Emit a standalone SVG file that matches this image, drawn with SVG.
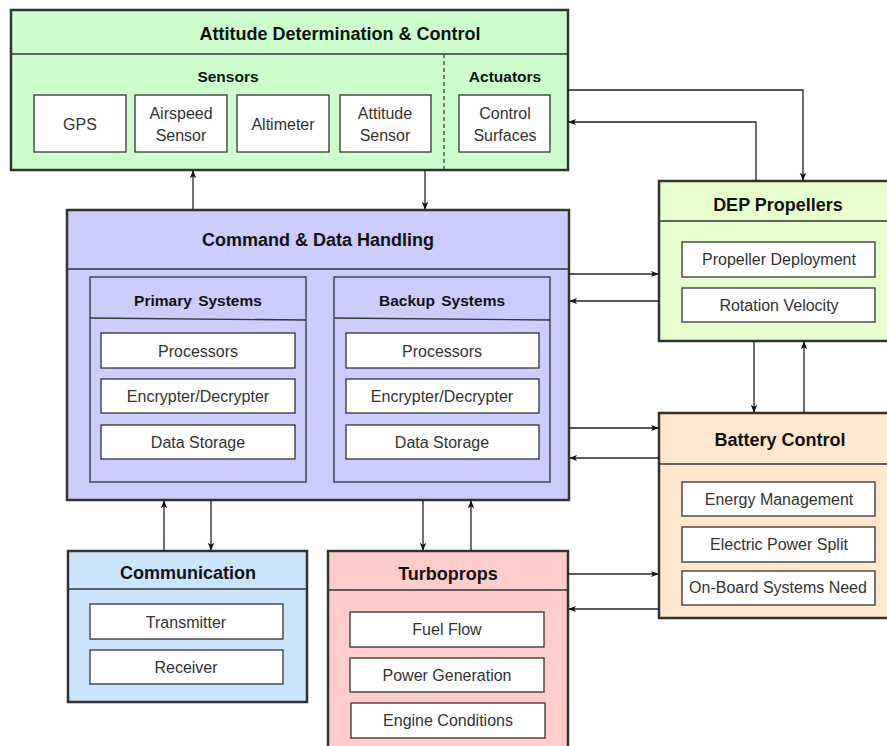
<svg xmlns="http://www.w3.org/2000/svg" width="887" height="746" viewBox="0 0 887 746">
<defs>
<marker id="ah" viewBox="0 0 10 10" refX="9" refY="5" markerWidth="8" markerHeight="8" markerUnits="userSpaceOnUse" orient="auto">
<path d="M0,1 L10,5 L0,9 L2.5,5 Z" fill="#111"/>
</marker>
</defs>
<style>
.outer{stroke:#333;stroke-width:2.5}
.div{stroke:#333;stroke-width:1.3;fill:none}
.item{fill:#fff;stroke:#333;stroke-width:1.3}
.title{font-family:"Liberation Sans",Arial,sans-serif;font-size:18px;font-weight:bold;fill:#111;text-anchor:middle}
.sub{font-family:"Liberation Sans",Arial,sans-serif;font-size:15.5px;font-weight:bold;fill:#111;text-anchor:middle;word-spacing:2px}
.txt{font-family:"Liberation Sans",Arial,sans-serif;font-size:16px;fill:#333;text-anchor:middle}
.con{stroke:#222;stroke-width:1.3;fill:none;marker-end:url(#ah)}
</style>
<rect width="887" height="746" fill="#fff"/>

<g id="adc">
<rect x="11" y="10" width="557" height="160" fill="#ccffcc" class="outer"/>
<line x1="11" y1="54" x2="568" y2="54" class="div"/>
<line x1="444" y1="54" x2="444" y2="170" stroke="#333" stroke-width="1.2" stroke-dasharray="4,3"/>
<text x="340" y="40" class="title">Attitude Determination &amp; Control</text>
<text x="228" y="81.5" class="sub">Sensors</text>
<text x="505" y="81.5" class="sub">Actuators</text>
<rect x="34" y="95" width="92" height="57" class="item"/>
<text x="80" y="129.5" class="txt">GPS</text>
<rect x="135" y="95" width="92" height="57" class="item"/>
<text x="181" y="119" class="txt">Airspeed</text>
<text x="181" y="141" class="txt">Sensor</text>
<rect x="237" y="95" width="92" height="57" class="item"/>
<text x="283" y="129.5" class="txt">Altimeter</text>
<rect x="340" y="95" width="91" height="57" class="item"/>
<text x="385" y="119" class="txt">Attitude</text>
<text x="385" y="141" class="txt">Sensor</text>
<rect x="459" y="95" width="91" height="57" class="item"/>
<text x="505" y="119" class="txt">Control</text>
<text x="505" y="141" class="txt">Surfaces</text>
</g>

<g id="cdh">
<rect x="67" y="210" width="502" height="290" fill="#ccccff" class="outer"/>
<line x1="67" y1="269" x2="569" y2="269" class="div"/>
<text x="318" y="245.5" class="title">Command &amp; Data Handling</text>
<rect x="90" y="277" width="216" height="205" fill="#ccccff" class="div"/>
<line x1="90" y1="318" x2="306" y2="320" class="div"/>
<text x="198" y="305.5" class="sub">Primary Systems</text>
<rect x="334" y="277" width="216" height="205" fill="#ccccff" class="div"/>
<line x1="334" y1="318" x2="550" y2="320" class="div"/>
<text x="442" y="305.5" class="sub">Backup Systems</text>
<rect x="101" y="333" width="194" height="35" class="item"/>
<text x="198" y="357" class="txt">Processors</text>
<rect x="101" y="379" width="194" height="34" class="item"/>
<text x="198" y="402" class="txt">Encrypter/Decrypter</text>
<rect x="101" y="425" width="194" height="34" class="item"/>
<text x="198" y="448" class="txt">Data Storage</text>
<rect x="346" y="333" width="193" height="35" class="item"/>
<text x="442" y="357" class="txt">Processors</text>
<rect x="346" y="379" width="193" height="34" class="item"/>
<text x="442" y="402" class="txt">Encrypter/Decrypter</text>
<rect x="346" y="425" width="193" height="34" class="item"/>
<text x="442" y="448" class="txt">Data Storage</text>
</g>

<g id="dep">
<rect x="659" y="181" width="240" height="160" fill="#e6ffcc" class="outer"/>
<line x1="659" y1="221" x2="899" y2="221" class="div"/>
<text x="778" y="211" class="title">DEP Propellers</text>
<rect x="682" y="242" width="193" height="35" class="item"/>
<text x="779" y="265" class="txt">Propeller Deployment</text>
<rect x="682" y="288" width="193" height="34" class="item"/>
<text x="779" y="311" class="txt">Rotation Velocity</text>
</g>

<g id="battery">
<rect x="659" y="413" width="240" height="205" fill="#ffe6cc" class="outer"/>
<line x1="659" y1="464" x2="899" y2="464" class="div"/>
<text x="780" y="445.5" class="title">Battery Control</text>
<rect x="682" y="482" width="193" height="34" class="item"/>
<text x="779" y="505" class="txt">Energy Management</text>
<rect x="682" y="527" width="193" height="35" class="item"/>
<text x="779" y="550" class="txt">Electric Power Split</text>
<rect x="682" y="571" width="193" height="34" class="item"/>
<text x="778" y="593" class="txt">On-Board Systems Need</text>
</g>

<g id="communication">
<rect x="68" y="551" width="239" height="151" fill="#cce5ff" class="outer"/>
<line x1="68" y1="589" x2="307" y2="589" class="div"/>
<text x="188" y="578.5" class="title">Communication</text>
<rect x="90" y="604" width="193" height="35" class="item"/>
<text x="186" y="628" class="txt">Transmitter</text>
<rect x="90" y="650" width="193" height="34" class="item"/>
<text x="186" y="673" class="txt">Receiver</text>
</g>

<g id="turboprops">
<rect x="328" y="551" width="240" height="210" fill="#ffcccc" class="outer"/>
<line x1="328" y1="590" x2="568" y2="590" class="div"/>
<text x="448" y="579.5" class="title">Turboprops</text>
<rect x="350" y="612" width="194" height="35" class="item"/>
<text x="447" y="635" class="txt">Fuel Flow</text>
<rect x="350" y="658" width="194" height="34" class="item"/>
<text x="447" y="681" class="txt">Power Generation</text>
<rect x="351" y="703" width="194" height="35" class="item"/>
<text x="448" y="726" class="txt">Engine Conditions</text>
</g>

<g id="connectors">
<path d="M193,210 V171" class="con"/>
<path d="M425,170 V209" class="con"/>
<path d="M568,90 H803 V180" class="con"/>
<path d="M756,181 V122 H569" class="con"/>
<path d="M569,274 H658" class="con"/>
<path d="M659,301 H570" class="con"/>
<path d="M754,341 V412" class="con"/>
<path d="M804,413 V342" class="con"/>
<path d="M569,428 H658" class="con"/>
<path d="M659,458 H570" class="con"/>
<path d="M568,574 H658" class="con"/>
<path d="M659,609 H569" class="con"/>
<path d="M164,551 V501" class="con"/>
<path d="M211,500 V550" class="con"/>
<path d="M423,500 V550" class="con"/>
<path d="M471,551 V501" class="con"/>
</g>
</svg>
